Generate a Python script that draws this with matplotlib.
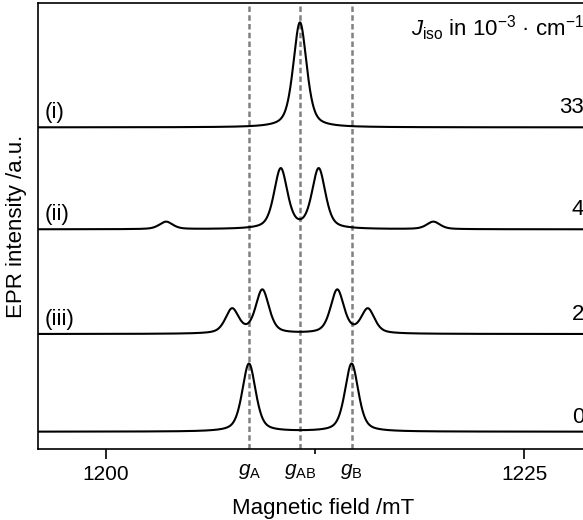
import numpy as np
import matplotlib
matplotlib.use("Agg")
import matplotlib.pyplot as plt
from matplotlib.ticker import FixedLocator

plt.rcParams['font.family'] = ['Liberation Sans', 'DejaVu Sans']
plt.rcParams['mathtext.fontset'] = 'custom'
plt.rcParams['mathtext.rm'] = 'Liberation Sans'
plt.rcParams['mathtext.it'] = 'Liberation Sans:italic'
plt.rcParams['mathtext.bf'] = 'Liberation Sans:bold'

# line positions (mT) and intensities (a.u.)
pos_i = [1211.6]
amp_i = [105]
pos_ii = [1203.59, 1210.45, 1212.72, 1219.58]
amp_ii = [7.5, 60, 60, 7.5]
pos_iii = [1207.54, 1209.35, 1213.83, 1215.66]
amp_iii = [24.3, 43.6, 43.6, 24.3]
pos_iv = [1208.55, 1214.69]
amp_iv = [68, 68]

spectra = [(pos_i, amp_i), (pos_ii, amp_ii), (pos_iii, amp_iii), (pos_iv, amp_iv)]
offsets = [321.2, 219.2, 114.5, 16.8]
left_labels = ['(i)', '(ii)', '(iii)', '']
j_values = ['33', '4', '2', '0']

g_pos = [1208.57, 1211.62, 1214.69]
g_labels = [r'$g_{\mathrm{A}}$', r'$g_{\mathrm{AB}}$', r'$g_{\mathrm{B}}$']

linewidth_mT = 0.95
eta = 0.5


def pseudo_voigt(x, x0, amp):
	"""Peak-normalised pseudo-Voigt line."""
	d = (x - x0) / linewidth_mT
	lor = 1.0 / (1.0 + 4.0 * d ** 2)
	gau = np.exp(-4.0 * np.log(2) * d ** 2)
	return amp * (eta * lor + (1 - eta) * gau)


def main():
	fig = plt.figure(figsize=(5.83, 5.2), dpi=100)
	ax = fig.add_axes([0.0657, 0.1375, 0.9765, 0.856])

	xmin, xmax = 1195.95, 1230.0
	field = np.linspace(xmin, xmax, 3000)

	for gx in g_pos:
		ax.axvline(gx, color='#808080', lw=1.8, ls=(0, (2.2, 1.3)), zorder=1)

	for (pos, amp), off, lab, jv in zip(spectra, offsets, left_labels, j_values):
		y = np.full_like(field, off)
		for p, a in zip(pos, amp):
			y += pseudo_voigt(field, p, a)
		ax.plot(field, y, color='black', lw=1.5, zorder=3)
		if lab:
			ax.text(1196.3, off + 4, lab, fontsize=16, ha='left', va='bottom')
		ax.text(1228.6, off + (9 if jv != '0' else 4), jv, fontsize=16, ha='right', va='bottom')

	ax.text(1228.6, 420, r'$J_{\mathrm{iso}}$ in 10$^{-3}$ · cm$^{-1}$', fontsize=16,
		ha='right', va='center')

	ax.set_xlim(xmin, xmax)
	ax.set_ylim(0, 445.2)
	ax.xaxis.set_major_locator(FixedLocator([1200, 1225]))
	ax.xaxis.set_minor_locator(FixedLocator([1212.5]))
	ax.tick_params(axis='x', which='major', length=7, width=1.2, labelsize=15, pad=5)
	ax.tick_params(axis='x', which='minor', length=3.5, width=1.2)
	ax.set_yticks([])
	for sp in ax.spines.values():
		sp.set_linewidth(1.2)

	for gx, gl in zip(g_pos, g_labels):
		ax.annotate(gl, xy=(gx, 0), xycoords=('data', 'axes fraction'), xytext=(0, -10),
			textcoords='offset points', ha='center', va='top', fontsize=15)

	ax.set_xlabel('Magnetic field /mT', fontsize=16, labelpad=10)
	ax.set_ylabel('EPR intensity /a.u.', fontsize=16, labelpad=8)

	fig.savefig('out.png', dpi=100)


if __name__ == "__main__":
	main()
